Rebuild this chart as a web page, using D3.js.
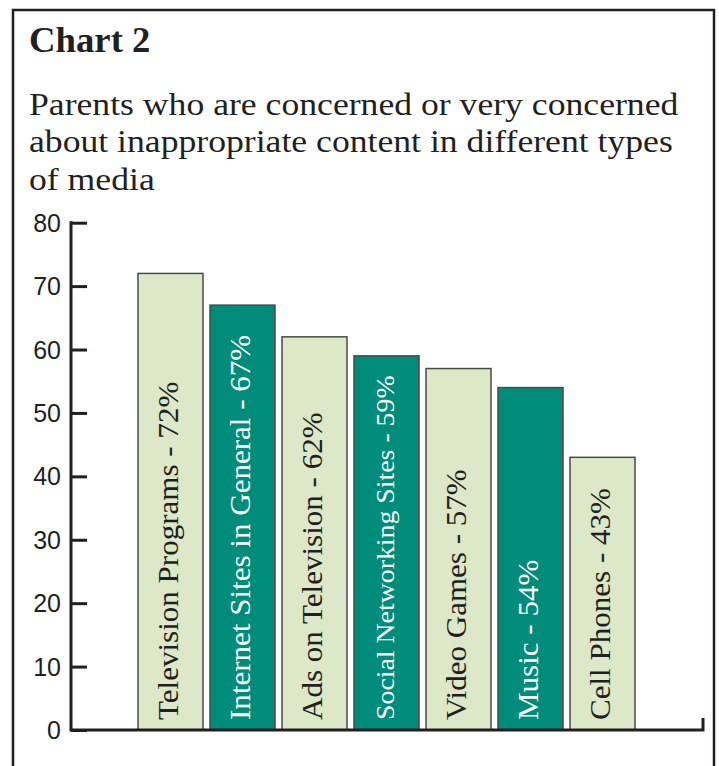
<!DOCTYPE html>
<html>
<head>
<meta charset="utf-8">
<script src="https://cdn.jsdelivr.net/npm/d3@7"></script>
<style>
  html, body { margin: 0; padding: 0; background: #fff; }
  svg { display: block; }
</style>
</head>
<body>
<div id="chart"></div>
<script>
// data
const categories = ['Television Programs', 'Internet Sites in General', 'Ads on Television',
    'Social Networking Sites', 'Video Games', 'Music', 'Cell Phones'];
const values = [72, 67, 62, 59, 57, 54, 43];
const darkBars = [false, true, false, true, false, true, false];
const yTicks = [0, 10, 20, 30, 40, 50, 60, 70, 80];
const title = 'Chart 2';
const subtitle = ['Parents who are concerned or very concerned',
    'about inappropriate content in different types',
    'of media'];

const width = 719;
const height = 766;
const serif = '"Liberation Serif", "Times New Roman", serif';
const sans = '"Liberation Sans", Arial, sans-serif';
const ink = '#231f20';

// the original face is a wide book serif, so widen the Times-like glyphs a bit
function widen(selection, factor) {
    selection.each(function () {
        const len = this.getComputedTextLength();
        d3.select(this)
            .attr('textLength', len * factor)
            .attr('lengthAdjust', 'spacingAndGlyphs');
    });
}

const svg = d3.select('#chart')
    .append('svg')
    .attr('width', width)
    .attr('height', height);

svg.append('rect')
    .attr('x', 0).attr('y', 0)
    .attr('width', width).attr('height', height)
    .attr('fill', '#fff');

// frame, open at the bottom
svg.append('path')
    .attr('d', 'M13,' + height + 'V10H714V' + height)
    .attr('fill', 'none')
    .attr('stroke', ink)
    .attr('stroke-width', 2.5);

svg.append('text')
    .attr('x', 29).attr('y', 52)
    .attr('font-family', serif)
    .attr('font-weight', 'bold')
    .attr('font-size', 35)
    .attr('fill', ink)
    .text(title)
    .call(widen, 1.05);

svg.append('g')
    .selectAll('text')
    .data(subtitle)
    .enter()
    .append('text')
    .attr('x', 29)
    .attr('y', (d, i) => 115 + i * 37.3)
    .attr('font-family', serif)
    .attr('font-size', 31)
    .attr('fill', ink)
    .text(d => d)
    .call(widen, 1.15);

// scales
const y = d3.scaleLinear()
    .domain([0, 80])
    .range([730, 222.7]);

const step = 72;
const x = d3.scaleBand()
    .domain(categories)
    .range([134.5, 134.5 + step * categories.length])
    .paddingInner(7 / step)
    .paddingOuter(3.5 / step);

// y axis
const yAxis = svg.append('g')
    .attr('transform', 'translate(71,0)')
    .call(d3.axisRight(y).tickValues(yTicks).tickSize(16).tickFormat(''));
yAxis.select('.domain').remove();
yAxis.selectAll('line')
    .attr('stroke', ink)
    .attr('stroke-width', 3);

svg.append('line')
    .attr('x1', 71).attr('x2', 71)
    .attr('y1', y(80) - 1.5).attr('y2', y(0) + 1.5)
    .attr('stroke', ink)
    .attr('stroke-width', 3);

svg.append('g')
    .selectAll('text')
    .data(yTicks)
    .enter()
    .append('text')
    .attr('x', 61)
    .attr('y', d => y(d) + 9)
    .attr('text-anchor', 'end')
    .attr('font-family', sans)
    .attr('font-size', 25)
    .attr('fill', ink)
    .text(d => d);

// bars
const bars = svg.append('g')
    .selectAll('g')
    .data(categories)
    .enter()
    .append('g');

bars.append('rect')
    .attr('x', d => x(d))
    .attr('y', (d, i) => y(values[i]))
    .attr('width', x.bandwidth())
    .attr('height', (d, i) => y(0) - y(values[i]))
    .attr('fill', (d, i) => darkBars[i] ? '#008c7a' : '#dce8c7')
    .attr('stroke', '#4a4a4a')
    .attr('stroke-width', 1.5);

bars.append('text')
    .attr('transform', d => 'translate(' + (x(d) + x.bandwidth() / 2 + 7) + ',' + (y(0) - 10) + ') rotate(-90)')
    .attr('font-family', serif)
    .attr('font-size', (d, i) => i === 3 ? 26 : 29)
    .attr('fill', (d, i) => darkBars[i] ? '#fff' : ink)
    .text((d, i) => d + ' - ' + values[i] + '%')
    .call(widen, 1.07);

// x axis with a small upturn at the right end
svg.append('path')
    .attr('d', 'M71,' + y(0) + 'H' + 703 + 'V' + (y(0) - 12))
    .attr('fill', 'none')
    .attr('stroke', ink)
    .attr('stroke-width', 3);
</script>
</body>
</html>
